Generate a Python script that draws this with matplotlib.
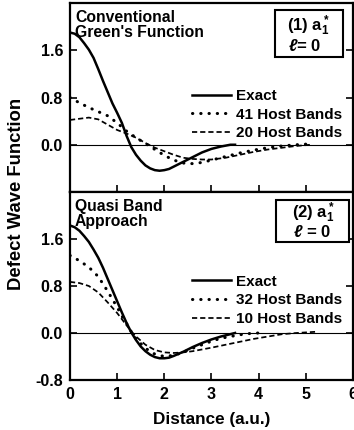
import matplotlib.pyplot as plt
from matplotlib.patches import Rectangle

plt.rcParams['font.family'] = ['Liberation Sans', 'DejaVu Sans']
plt.rcParams['font.weight'] = 'bold'
plt.rcParams['mathtext.fontset'] = 'custom'
plt.rcParams['mathtext.bf'] = 'Liberation Sans:bold'
plt.rcParams['mathtext.rm'] = 'Liberation Sans:bold'
plt.rcParams['mathtext.it'] = 'Liberation Sans:italic:bold'
plt.rcParams['mathtext.default'] = 'bf'

# --- panel 1: conventional Green's function ---
x_exact1 = [0, 0.1, 0.2, 0.3, 0.4, 0.5, 0.6, 0.7, 0.8, 0.9, 1.0, 1.1, 1.2, 1.3, 1.4,
            1.5, 1.6, 1.7, 1.8, 1.9, 2.0, 2.1, 2.2, 2.4, 2.6, 2.8, 3.0, 3.2, 3.4, 3.5]
exact1 = [1.90, 1.88, 1.82, 1.72, 1.61, 1.47, 1.28, 1.08, 0.89, 0.70, 0.54, 0.37, 0.15,
          -0.04, -0.17, -0.27, -0.35, -0.40, -0.43, -0.44, -0.43, -0.41, -0.37, -0.29,
          -0.21, -0.13, -0.07, -0.03, 0.0, 0.0]

x_41 = [0, 0.2, 0.4, 0.6, 0.8, 1.0, 1.2, 1.4, 1.6, 1.8, 2.0, 2.2, 2.4, 2.6, 2.8, 3.0,
        3.3, 3.6, 3.9, 4.2, 4.5, 4.8, 5.0]
bands41 = [0.80, 0.71, 0.63, 0.56, 0.49, 0.37, 0.23, 0.12, 0.02, -0.08, -0.18, -0.26,
           -0.31, -0.32, -0.30, -0.26, -0.20, -0.14, -0.09, -0.05, -0.02, 0.0, 0.01]

x_20 = [0, 0.2, 0.4, 0.6, 0.8, 1.0, 1.2, 1.4, 1.6, 1.8, 2.0, 2.2, 2.4, 2.6, 2.8, 3.0,
        3.3, 3.6, 3.9, 4.2, 4.5, 4.8, 5.1]
bands20 = [0.42, 0.44, 0.46, 0.43, 0.34, 0.25, 0.19, 0.12, 0.03, -0.05, -0.11, -0.17,
           -0.22, -0.24, -0.25, -0.25, -0.22, -0.17, -0.12, -0.08, -0.05, -0.02, 0.0]

# --- panel 2: quasi band approach ---
x_exact2 = [0, 0.1, 0.2, 0.3, 0.4, 0.5, 0.6, 0.7, 0.8, 0.9, 1.0, 1.1, 1.2, 1.3, 1.4,
            1.5, 1.6, 1.7, 1.8, 1.9, 2.0, 2.1, 2.2, 2.4, 2.6, 2.8, 3.0, 3.2, 3.4, 3.5]
exact2 = [1.83, 1.80, 1.74, 1.65, 1.55, 1.42, 1.28, 1.11, 0.92, 0.73, 0.54, 0.35, 0.17,
          0.01, -0.12, -0.23, -0.31, -0.37, -0.41, -0.43, -0.43, -0.42, -0.39, -0.32,
          -0.24, -0.17, -0.11, -0.06, -0.02, 0.0]

x_32 = [0, 0.2, 0.4, 0.6, 0.8, 1.0, 1.1, 1.2, 1.3, 1.4, 1.6, 1.8, 2.0, 2.2, 2.4, 2.6,
        2.8, 3.0, 3.2, 3.4, 3.6, 3.8, 4.0]
bands32 = [1.32, 1.23, 1.12, 0.96, 0.71, 0.44, 0.29, 0.16, 0.02, -0.10, -0.26, -0.36,
           -0.40, -0.38, -0.33, -0.26, -0.20, -0.14, -0.09, -0.06, -0.03, -0.01, 0.0]

x_10 = [0, 0.2, 0.4, 0.6, 0.8, 1.0, 1.2, 1.3, 1.4, 1.6, 1.8, 2.0, 2.2, 2.4, 2.6, 2.8,
        3.0, 3.3, 3.6, 3.9, 4.2, 4.5, 4.8, 5.2]
bands10 = [0.87, 0.85, 0.80, 0.69, 0.52, 0.34, 0.13, 0.03, -0.06, -0.20, -0.29, -0.33,
           -0.34, -0.33, -0.31, -0.28, -0.25, -0.20, -0.15, -0.10, -0.06, -0.02, 0.0, 0.02]

xticks = [0, 1, 2, 3, 4, 5, 6]
yticks = [-0.8, 0.0, 0.8, 1.6]

DOT = (0, (0.1, 2.6))
DASH = (0, (3.0, 1.7))

fig = plt.figure(figsize=(3.54, 4.30), dpi=100)
ax1 = fig.add_axes([0.1977, 0.5535, 0.7994, 0.4395])
ax2 = fig.add_axes([0.1977, 0.1163, 0.7994, 0.4372])

# (axes, title, box line 1, box line 2, box rect, line baselines, legend top)
panels = [
    (ax1, "Conventional\nGreen's Function", "(1) a$^*_1$", "$\\it{\\ell}$= 0",
     (0.724, 0.714, 0.241, 0.249), (0.767, 0.855, 0.770, 0.748), 0.545,
     [(x_exact1, exact1, '-', 'Exact'), (x_41, bands41, DOT, '41 Host Bands'),
      (x_20, bands20, DASH, '20 Host Bands')]),
    (ax2, "Quasi Band\nApproach", "(2) a$^*_1$", "$\\it{\\ell}$ = 0",
     (0.728, 0.734, 0.258, 0.223), (0.784, 0.862, 0.788, 0.762), 0.56,
     [(x_exact2, exact2, '-', 'Exact'), (x_32, bands32, DOT, '32 Host Bands'),
      (x_10, bands10, DASH, '10 Host Bands')]),
]

for ax, title, box1, box2, rect, pos, leg_y, series in panels:
    ax.axhline(0, color='black', lw=0.8)
    for xs, ys, ls, lab in series:
        if ls == '-':
            ax.plot(xs, ys, color='black', lw=1.8, label=lab)
        elif ls == DOT:
            ax.plot(xs, ys, color='black', linestyle=ls, lw=2.2, label=lab,
                    dash_capstyle='round')
        else:
            ax.plot(xs, ys, color='black', linestyle=ls, lw=1.25, label=lab)
    ax.set_xlim(0, 6)
    ax.set_ylim(-0.8, 2.4)
    ax.set_xticks(xticks)
    ax.set_yticks(yticks)
    ax.tick_params(direction='in', length=5, width=1.2, labelsize=11.5, pad=5,
                   right=True)
    for sp in ax.spines.values():
        sp.set_linewidth(1.6)
    ax.text(0.018, 0.965, title, transform=ax.transAxes, ha='left', va='top',
            fontsize=11.3, fontweight='bold', linespacing=1.0)
    ax.add_patch(Rectangle(rect[:2], rect[2], rect[3], transform=ax.transAxes,
                           fc='white', ec='black', lw=1.5, zorder=3))
    ax.text(pos[0], pos[1], box1, transform=ax.transAxes, ha='left',
            va='baseline', fontsize=12, fontweight='bold', zorder=4)
    ax.text(pos[2], pos[3], box2, transform=ax.transAxes, ha='left',
            va='baseline', fontsize=12, fontweight='bold', zorder=4)
    ax.legend(loc='upper left', bbox_to_anchor=(0.43, leg_y), frameon=False,
              handlelength=2.6, handletextpad=0.3, labelspacing=0.3,
              borderpad=0, borderaxespad=0, prop={'weight': 'bold', 'size': 11})

ax1.tick_params(labelbottom=False)
ax1.set_yticklabels(['', '0.0', '0.8', '1.6'])
ax2.set_yticklabels(['-0.8', '0.0', '0.8', '1.6'])
ax2.set_xlabel('Distance (a.u.)', fontsize=12.3, fontweight='bold', labelpad=7)
fig.text(0.048, 0.548, 'Defect Wave Function', rotation=90, ha='center',
         va='center', fontsize=13.3, fontweight='bold')

fig.savefig('out.png', dpi=100)
